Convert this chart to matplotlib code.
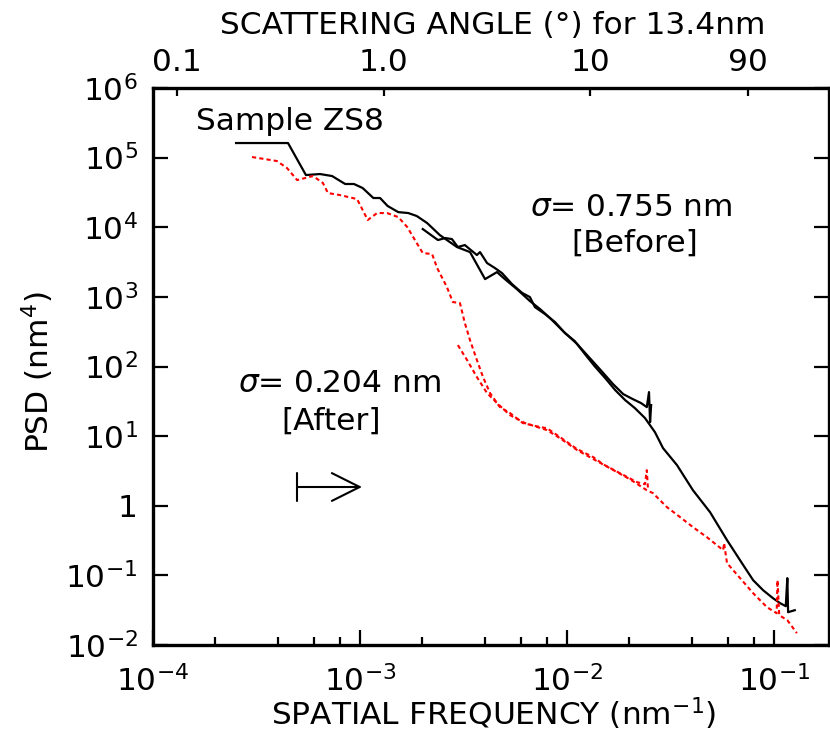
import numpy as np
import matplotlib.pyplot as plt
from matplotlib.ticker import FixedLocator, FixedFormatter, LogLocator, NullFormatter, NullLocator

# PSD before cleaning (black), two overlapping scan sizes
before_big_f = [2.52e-4, 4.49e-4, 5.48e-4, 6.41e-4, 7.33e-4, 8.48e-4, 9.35e-4, 1.03e-3,
                1.16e-3, 1.25e-3, 1.36e-3, 1.53e-3, 1.71e-3, 1.88e-3, 2.11e-3, 2.43e-3,
                2.94e-3, 3.40e-3, 4.02e-3, 4.59e-3, 5.01e-3, 5.73e-3, 6.62e-3, 7.41e-3,
                8.28e-3, 9.57e-3, 1.12e-2, 1.25e-2, 1.44e-2, 1.67e-2, 1.87e-2, 2.08e-2,
                2.28e-2, 2.43e-2, 2.49e-2, 2.52e-2, 2.55e-2]
before_big_psd = [1.62e5, 1.62e5, 5.62e4, 5.81e4, 5.44e4, 4.18e4, 4.18e4, 3.66e4,
                  2.63e4, 2.63e4, 2.02e4, 1.65e4, 1.60e4, 1.45e4, 1.15e4, 7.72e3,
                  5.20e3, 4.40e3, 1.80e3, 2.27e3, 1.80e3, 1.29e3, 871, 668,
                  496, 323, 210, 146, 91.8, 55.8, 40.1, 34.0,
                  29.8, 26.1, 42.9, 15.9, 27.9]

before_small_f = [2.01e-3, 2.38e-3, 2.58e-3, 2.78e-3, 2.97e-3, 3.21e-3, 3.67e-3, 3.80e-3,
                  4.11e-3, 4.49e-3, 4.85e-3, 5.42e-3, 6.07e-3, 6.62e-3, 7.00e-3, 7.83e-3,
                  8.75e-3, 9.77e-3, 1.09e-2, 1.22e-2, 1.36e-2, 1.53e-2, 1.71e-2, 1.91e-2,
                  2.13e-2, 2.38e-2, 2.66e-2, 2.91e-2, 3.40e-2, 4.06e-2, 4.91e-2, 5.93e-2,
                  7.00e-2, 7.93e-2, 8.86e-2, 9.89e-2, 0.107, 0.114, 0.116, 0.117, 0.126]
before_small_psd = [9.42e3, 6.55e3, 7.00e3, 6.76e3, 5.20e3, 5.55e3, 3.99e3, 4.40e3,
                    3.06e3, 2.59e3, 2.20e3, 1.53e3, 1.14e3, 993, 713, 566,
                    435, 302, 232, 151, 101, 68.1, 45.8, 32.9,
                    25.2, 18.2, 11.4, 6.73, 3.83, 1.67, 0.809, 0.321,
                    0.150, 0.0853, 0.0612, 0.0470, 0.0399, 0.0361, 0.0912, 0.0296, 0.0316]

# PSD after cleaning (red)
after_big_f = [3.01e-4, 3.97e-4, 4.44e-4, 4.97e-4, 5.93e-4, 6.62e-4, 7.00e-4, 8.00e-4,
               9.68e-4, 1.03e-3, 1.09e-3, 1.21e-3, 1.35e-3, 1.53e-3, 1.69e-3, 1.88e-3,
               2.01e-3, 2.23e-3, 2.36e-3, 2.63e-3, 2.81e-3, 3.04e-3, 3.21e-3, 3.40e-3,
               3.67e-3, 3.93e-3, 4.25e-3, 4.74e-3, 5.31e-3, 6.12e-3, 7.41e-3, 8.00e-3,
               9.25e-3, 1.12e-2, 1.34e-2, 1.49e-2, 1.80e-2, 2.18e-2, 2.38e-2, 2.43e-2, 2.46e-2]
after_big_psd = [1.02e5, 8.93e4, 7.09e4, 4.76e4, 5.44e4, 4.32e4, 3.10e4, 2.90e4,
                 2.54e4, 1.77e4, 1.27e4, 1.60e4, 1.60e4, 1.40e4, 1.01e4, 5.93e3,
                 4.26e3, 4.12e3, 2.59e3, 1.38e3, 842, 815, 421, 239,
                 124, 70.5, 41.5, 26.1, 21.4, 15.4, 13.5, 13.0,
                 9.68, 6.50, 4.99, 3.96, 2.94, 2.18, 2.04, 3.24, 1.79]

after_small_f = [2.97e-3, 3.29e-3, 3.67e-3, 4.11e-3, 4.59e-3, 5.31e-3, 6.27e-3, 8.00e-3,
                 9.25e-3, 1.12e-2, 1.34e-2, 1.61e-2, 2.01e-2, 2.43e-2, 2.60e-2, 3.04e-2,
                 3.52e-2, 4.06e-2, 4.74e-2, 5.68e-2, 5.74e-2, 5.93e-2, 6.86e-2, 7.93e-2,
                 9.25e-2, 0.103, 0.104, 0.106, 0.116, 0.129]
after_small_psd = [203, 124, 70.5, 41.5, 29.8, 20.0, 15.4, 12.2,
                   9.35, 6.30, 4.68, 3.47, 2.41, 1.67, 1.52, 0.955,
                   0.686, 0.493, 0.354, 0.230, 0.290, 0.150, 0.0912, 0.0555,
                   0.0349, 0.0286, 0.0853, 0.0268, 0.0227, 0.0148]

x_ticks = [1e-4, 1e-3, 1e-2, 1e-1]
x_labels = ['$10^{-4}$', '$10^{-3}$', '$10^{-2}$', '$10^{-1}$']
y_ticks = [1e-2, 1e-1, 1, 1e1, 1e2, 1e3, 1e4, 1e5, 1e6]
y_labels = ['$10^{-2}$', '$10^{-1}$', '1', '$10^{1}$', '$10^{2}$', '$10^{3}$',
            '$10^{4}$', '$10^{5}$', '$10^{6}$']
angles = [0.1, 1.0, 10, 90]
angle_labels = ['0.1', '1.0', '10', '90']
wavelength = 13.4

plt.rcParams['mathtext.default'] = 'regular'
W, H = 830, 731
FS = 22.5


def px(x, y):
    return x / W, 1 - y / H


fig = plt.figure(figsize=(W / 100, H / 100), dpi=100)
ax = fig.add_axes([153 / W, 1 - 645 / H, (829 - 153) / W, (645 - 88) / H])

ax.plot(before_big_f, before_big_psd, color='black', lw=1.6)
ax.plot(before_small_f, before_small_psd, color='black', lw=1.6)
ax.plot(after_big_f, after_big_psd, color='red', lw=1.5, ls=(0, (2, 1.5)))
ax.plot(after_small_f, after_small_psd, color='red', lw=1.5, ls=(0, (2, 1.5)))

ax.set_xscale('log')
ax.set_yscale('log')
ax.set_xlim(1e-4, 0.1844)
ax.set_ylim(1e-2, 1e6)

ax.xaxis.set_major_locator(FixedLocator(x_ticks))
ax.xaxis.set_major_formatter(FixedFormatter(x_labels))
ax.xaxis.set_minor_locator(LogLocator(base=10, subs=[2, 4, 6, 8], numticks=20))
ax.xaxis.set_minor_formatter(NullFormatter())
ax.yaxis.set_major_locator(FixedLocator(y_ticks))
ax.yaxis.set_major_formatter(FixedFormatter(y_labels))
ax.yaxis.set_minor_locator(NullLocator())

ax.tick_params(which='both', direction='in', top=True, right=True, width=1.6)
ax.tick_params(which='major', length=11)
ax.tick_params(which='minor', length=6)
ax.tick_params(axis='x', labelsize=FS, pad=14)
ax.tick_params(axis='y', labelsize=FS, pad=11)
for s in ax.spines.values():
    s.set_linewidth(2.4)

# top axis: scattering angle, f = sin(theta) / lambda
ax2 = ax.twiny()
ax2.set_xscale('log')
ax2.set_xlim(ax.get_xlim())
ax2.xaxis.set_major_locator(FixedLocator(np.sin(np.radians(angles)) / wavelength))
ax2.xaxis.set_major_formatter(FixedFormatter(angle_labels))
ax2.xaxis.set_minor_locator(NullLocator())
ax2.tick_params(axis='x', direction='in', length=6, width=1.6, labelsize=FS, pad=8)
for s in ax2.spines.values():
    s.set_visible(False)

fig.text(*px(493, 25), 'SCATTERING ANGLE (°) for 13.4nm', fontsize=FS, ha='center', va='center')
fig.text(*px(494, 714), 'SPATIAL FREQUENCY (nm$^{-1}$)', fontsize=FS, ha='center', va='center')
fig.text(*px(38, 372), 'PSD (nm$^{4}$)', fontsize=FS, ha='center', va='center', rotation=90)

fig.text(*px(290, 122), 'Sample ZS8', fontsize=FS, ha='center', va='center')
fig.text(*px(631, 207), r'$\mathit{\sigma}$= 0.755 nm', fontsize=FS, ha='center', va='center')
fig.text(*px(635, 243), '[Before]', fontsize=FS, ha='center', va='center')
fig.text(*px(340, 384), r'$\mathit{\sigma}$= 0.204 nm', fontsize=FS, ha='center', va='center')
fig.text(*px(331, 421), '[After]', fontsize=FS, ha='center', va='center')

ax.annotate('', xy=px(362, 487), xytext=px(297, 487), xycoords='figure fraction',
            textcoords='figure fraction',
            arrowprops=dict(arrowstyle=']->, widthA=0.2, lengthA=0', mutation_scale=50,
                            lw=1.5, color='black', shrinkA=0, shrinkB=0))

fig.savefig('out.png', dpi=100)
